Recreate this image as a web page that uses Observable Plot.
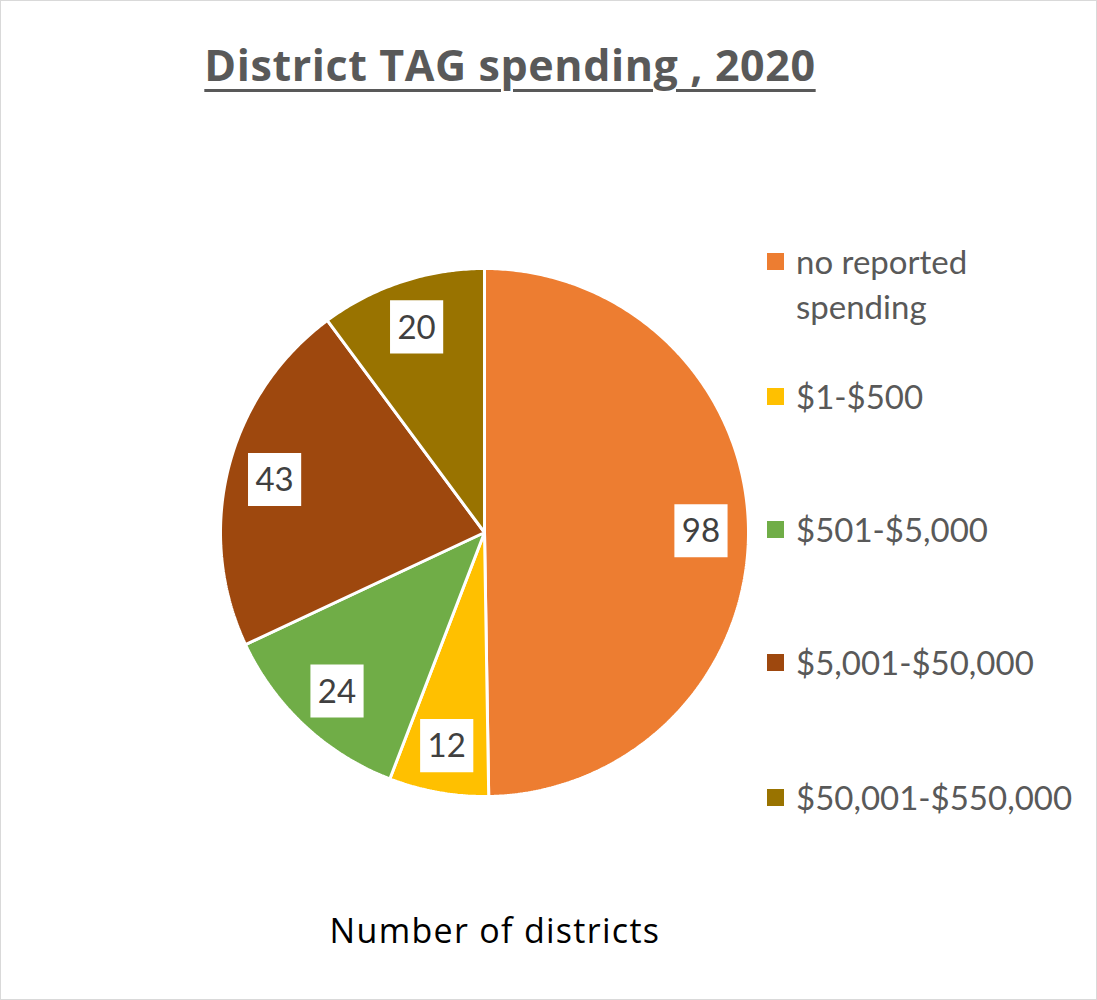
<!DOCTYPE html>
<html>
<head>
<meta charset="utf-8">
<script src="https://cdn.jsdelivr.net/npm/d3@7"></script>
<script src="https://cdn.jsdelivr.net/npm/@observablehq/plot@0.6"></script>
<style>
  html, body { margin: 0; padding: 0; background: #fff; }
  #frame { position: relative; width: 1097px; height: 1000px; box-sizing: border-box; border: 1px solid #d9d9d9; overflow: hidden; font-family: Lato, "Open Sans", sans-serif; }
  #title { position: absolute; left: 0; width: 1018px; top: 34px; text-align: center; font-family: "Open Sans", sans-serif; font-size: 43px; font-weight: bold; letter-spacing: 0.6px; color: #595959; text-decoration: underline; text-decoration-thickness: 3px; text-underline-offset: 8px; white-space: nowrap; }
  #pie { position: absolute; left: 203px; top: 251px; }
  #legend { position: absolute; left: 766px; top: 238px; color: #595959; font-size: 33px; }
  .item { position: absolute; left: 0; white-space: nowrap; }
  .sw { position: absolute; left: 0; width: 17px; height: 17px; }
  .lab { position: absolute; left: 29px; top: 0; line-height: 45px; }
  #caption { position: absolute; left: 0; width: 988px; top: 906px; text-align: center; font-family: "Open Sans", sans-serif; font-size: 34px; letter-spacing: 1.3px; color: #000; white-space: nowrap; }
</style>
</head>
<body>
<div id="frame">
  <div id="title">District TAG spending , 2020</div>
  <div id="pie"></div>
  <div id="legend"></div>
  <div id="caption">Number of districts</div>
</div>
<script>
const categories = ["no reported spending", "$1-$500", "$501-$5,000", "$5,001-$50,000", "$50,001-$550,000"];
const values = [98, 12, 24, 43, 20];
const colors = ["#ED7D31", "#FFC000", "#70AD47", "#9E480E", "#997300"];

const R = 264;      // pie radius, px
const half = 280;   // half size of svg, px
const ext = half / R;

const arcs = d3.pie().sort(null).value(d => d.value)(categories.map((c, i) => ({category: c, value: values[i]})));

// polygon vertices of each slice (center + arc)
const slicePts = [];
for (const a of arcs) {
  const n = Math.max(4, Math.ceil((a.endAngle - a.startAngle) / 0.01));
  slicePts.push({category: a.data.category, x: 0, y: 0});
  for (let k = 0; k <= n; k++) {
    const t = a.startAngle + (a.endAngle - a.startAngle) * k / n;
    slicePts.push({category: a.data.category, x: Math.sin(t), y: Math.cos(t)});
  }
}
const labelR = 0.82;
const labels = arcs.map(a => {
  const m = (a.startAngle + a.endAngle) / 2;
  return {category: a.data.category, value: a.data.value, x: labelR * Math.sin(m), y: labelR * Math.cos(m)};
});

const chart = Plot.plot({
  width: 2 * half,
  height: 2 * half,
  margin: 0,
  x: {domain: [-ext, ext], axis: null},
  y: {domain: [-ext, ext], axis: null},
  color: {domain: categories, range: colors},
  style: {background: "transparent", fontFamily: "Lato, 'Open Sans', sans-serif"},
  marks: [
    Plot.line(slicePts, {x: "x", y: "y", z: "category", fill: "category", stroke: "white", strokeWidth: 3, strokeLinejoin: "miter", curve: "linear-closed"}),
    Plot.dot(labels, {x: "x", y: "y", symbol: "square", r: 30, fill: "white", stroke: null}),
    Plot.text(labels, {x: "x", y: "y", text: d => String(d.value), fill: "#404040", fontSize: 33, dy: 1})
  ]
});
document.getElementById("pie").appendChild(chart);

const legendTops = [0, 135, 268, 401, 536];
const legend = document.getElementById("legend");
categories.forEach((c, i) => {
  const item = document.createElement("div");
  item.className = "item";
  item.style.top = legendTops[i] + "px";
  const sw = document.createElement("div");
  sw.className = "sw";
  sw.style.background = colors[i];
  sw.style.top = "14px";
  const lab = document.createElement("div");
  lab.className = "lab";
  lab.innerHTML = i === 0 ? "no reported<br>spending" : c;
  item.appendChild(sw);
  item.appendChild(lab);
  legend.appendChild(item);
});
</script>
</body>
</html>
